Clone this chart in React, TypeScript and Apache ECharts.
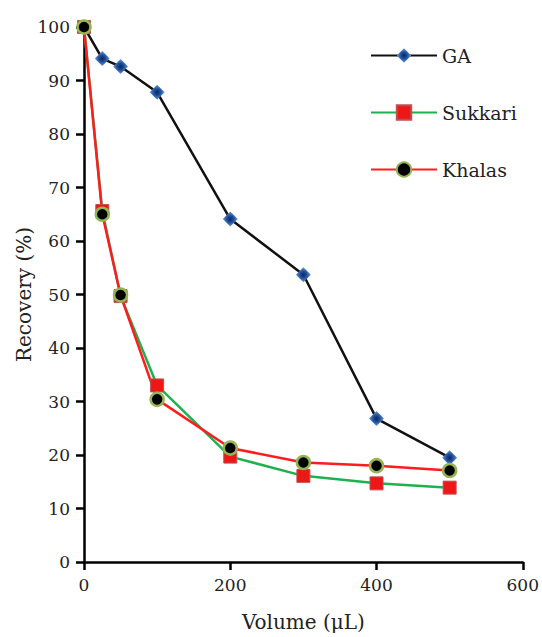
import React, { useEffect, useRef } from "react";
import * as echarts from "echarts";

const volumes = [0, 25, 50, 100, 200, 300, 400, 500];
const gaValues = [100, 94.1, 92.6, 87.8, 64.1, 53.7, 26.8, 19.5];
const sukkariValues = [100, 65.6, 49.7, 33.0, 19.7, 16.1, 14.7, 13.9];
const khalasValues = [100, 65.0, 49.9, 30.4, 21.3, 18.6, 18.0, 17.1];
const seriesNames = ["GA", "Sukkari", "Khalas"];

const FONT = "DejaVu Serif";

export default function App() {
  const ref = useRef<HTMLDivElement>(null);
  useEffect(() => {
    if (!ref.current) return;
    const chart = echarts.init(ref.current, undefined, { renderer: "svg" });
    const pair = (vals: number[]) => volumes.map((v, i) => [v, vals[i]]);
    chart.setOption({
      animation: false,
      backgroundColor: "#ffffff",
      grid: { left: 84, right: 14, top: 27, bottom: 72, containLabel: false },
      legend: {
        orient: "vertical",
        left: 365,
        top: 40,
        itemWidth: 66,
        itemHeight: 18,
        itemGap: 36,
        data: seriesNames,
        textStyle: { fontFamily: FONT, fontSize: 19, color: "#222", lineHeight: 21 },
      },
      xAxis: {
        type: "value",
        min: 0,
        max: 600,
        interval: 200,
        name: "Volume (μL)",
        nameLocation: "middle",
        nameGap: 50,
        nameMoveOverlap: false,
        nameTextStyle: { fontFamily: FONT, fontSize: 20, color: "#222" },
        splitLine: { show: false },
        axisLine: { show: true, onZero: false, lineStyle: { color: "#000", width: 2.5 } },
        axisTick: { show: true, inside: false, length: 8, lineStyle: { color: "#000", width: 2.5 } },
        axisLabel: { margin: 14, fontFamily: FONT, fontSize: 17, color: "#222" },
      },
      yAxis: {
        type: "value",
        min: 0,
        max: 100,
        interval: 10,
        name: "Recovery (%)",
        nameLocation: "middle",
        nameGap: 50,
        nameMoveOverlap: false,
        nameRotate: 90,
        nameTextStyle: { fontFamily: FONT, fontSize: 20, color: "#222" },
        splitLine: { show: false },
        axisLine: { show: true, onZero: false, lineStyle: { color: "#000", width: 2.5 } },
        axisTick: { show: true, inside: false, length: 8, lineStyle: { color: "#000", width: 2.5 } },
        axisLabel: { margin: 14, fontFamily: FONT, fontSize: 17, color: "#222" },
      },
      series: [
        {
          name: seriesNames[0],
          type: "line",
          data: pair(gaValues),
          symbol: "diamond",
          symbolSize: 15,
          lineStyle: { color: "#111", width: 2.5 },
          itemStyle: {
            color: {
              type: "radial",
              x: 0.5,
              y: 0.5,
              r: 0.5,
              colorStops: [
                { offset: 0, color: "#0b2560" },
                { offset: 0.45, color: "#1f4f9a" },
                { offset: 1, color: "#6d9ad8" },
              ],
            },
            borderWidth: 0,
          },
        },
        {
          name: seriesNames[1],
          type: "line",
          data: pair(sukkariValues),
          symbol: "rect",
          symbolSize: 13,
          lineStyle: { color: "#1fb04f", width: 2.5 },
          itemStyle: { color: "#ee1717", borderColor: "#c05050", borderWidth: 1 },
        },
        {
          name: seriesNames[2],
          type: "line",
          data: pair(khalasValues),
          symbol: "circle",
          symbolSize: 13,
          lineStyle: { color: "#ff1c1c", width: 2.5 },
          itemStyle: { color: "#000", borderColor: "#94b455", borderWidth: 2.5 },
        },
      ],
    });
    return () => chart.dispose();
  }, []);
  return (
    <div
      ref={ref}
      style={{ position: "fixed", left: 0, top: 0, width: 542, height: 637 }}
    />
  );
}
